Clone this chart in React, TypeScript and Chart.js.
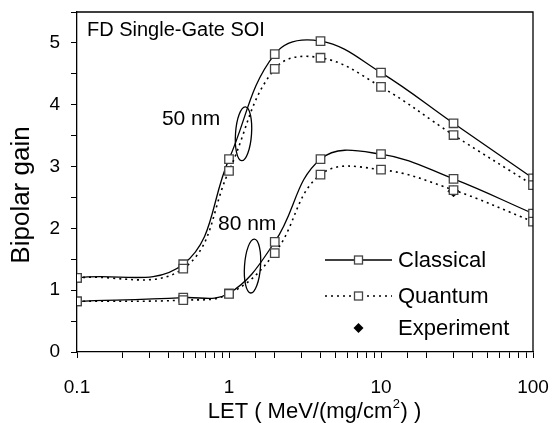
import React, { useEffect, useRef } from "react";
import { Chart, registerables } from "chart.js";

Chart.register(...registerables);

const LET = [0.1, 0.5, 1, 2, 4, 10, 30, 100];
const classical50 = [1.2, 1.42, 3.12, 4.82, 5.03, 4.52, 3.7, 2.81];
const quantum50 = [1.2, 1.35, 2.93, 4.58, 4.76, 4.29, 3.51, 2.7];
const classical80 = [0.82, 0.88, 0.95, 1.78, 3.12, 3.2, 2.8, 2.24];
const quantum80 = [0.82, 0.84, 0.94, 1.6, 2.87, 2.95, 2.62, 2.11];
const experimentLET = [30];
const experimentGain = [2.6];

const xTickLabels = [0.1, 1, 10, 100];
const yTickLabels = [0, 1, 2, 3, 4, 5];

const TITLE = "FD Single-Gate SOI";
const Y_TITLE = "Bipolar gain";
const X_TITLE_MAIN = "LET ( MeV/(mg/cm";
const X_TITLE_SUP = "2";
const X_TITLE_END = ") )";

const groupLabels = ["50 nm", "80 nm"];
const groupLabelX = [0.362, 0.846];
const groupLabelY = [3.67, 1.97];
const ellipseX = [1.246, 1.428];
const ellipseY = [3.53, 1.39];

const legendLabels = ["Classical", "Quantum", "Experiment"];

const FONT = "'Liberation Sans', Arial, Helvetica, sans-serif";

const toPts = (xs: number[], ys: number[]) => xs.map((x, i) => ({ x, y: ys[i] }));

const overlay = {
  id: "overlay",
  afterDraw(chart: any) {
    const { ctx, chartArea: a, scales } = chart;
    const xs = scales.x;
    const ys = scales.y;
    ctx.save();
    // frame
    ctx.strokeStyle = "#000";
    ctx.lineWidth = 1.3;
    ctx.beginPath();
    ctx.moveTo(a.left, a.top);
    ctx.lineTo(a.right, a.top);
    ctx.lineTo(a.right, a.bottom);
    ctx.stroke();

    ctx.fillStyle = "#000";
    // title
    ctx.font = `20px ${FONT}`;
    ctx.textAlign = "left";
    ctx.textBaseline = "alphabetic";
    ctx.fillText(TITLE, a.left + 10, a.top + 24);

    // group labels
    ctx.font = `21px ${FONT}`;
    groupLabels.forEach((t, i) => {
      ctx.fillText(t, xs.getPixelForValue(groupLabelX[i]), ys.getPixelForValue(groupLabelY[i]));
    });

    // ellipses
    ctx.lineWidth = 1.3;
    ellipseX.forEach((ex, i) => {
      ctx.beginPath();
      ctx.ellipse(xs.getPixelForValue(ex), ys.getPixelForValue(ellipseY[i]), 8, 27, 0.07, 0, Math.PI * 2);
      ctx.stroke();
    });

    // legend
    const lx0 = a.left + 248;
    const lx1 = a.left + 315;
    const lxm = (lx0 + lx1) / 2;
    const ly = [a.top + 248, a.top + 284, a.top + 316];
    ctx.font = `22px ${FONT}`;
    ctx.textBaseline = "middle";
    ctx.strokeStyle = "#000";
    ctx.lineWidth = 1.3;
    ctx.setLineDash([]);
    ctx.beginPath();
    ctx.moveTo(lx0, ly[0]);
    ctx.lineTo(lx1, ly[0]);
    ctx.stroke();
    ctx.lineWidth = 1.6;
    ctx.setLineDash([2, 4]);
    ctx.beginPath();
    ctx.moveTo(lx0, ly[1]);
    ctx.lineTo(lx1, ly[1]);
    ctx.stroke();
    ctx.setLineDash([]);
    for (let k = 0; k < 2; k++) {
      ctx.fillStyle = "#fff";
      ctx.strokeStyle = "#444";
      ctx.lineWidth = 1.3;
      ctx.fillRect(lxm - 4, ly[k] - 4, 8, 8);
      ctx.strokeRect(lxm - 4, ly[k] - 4, 8, 8);
    }
    ctx.fillStyle = "#000";
    ctx.beginPath();
    ctx.moveTo(lxm, ly[2] - 5);
    ctx.lineTo(lxm + 5, ly[2]);
    ctx.lineTo(lxm, ly[2] + 5);
    ctx.lineTo(lxm - 5, ly[2]);
    ctx.closePath();
    ctx.fill();
    legendLabels.forEach((t, i) => {
      ctx.fillText(t, lx1 + 6, ly[i] + 1);
    });

    // y title
    ctx.save();
    ctx.translate(22, 195);
    ctx.rotate(-Math.PI / 2);
    ctx.font = `26px ${FONT}`;
    ctx.textAlign = "center";
    ctx.textBaseline = "middle";
    ctx.fillText(Y_TITLE, 0, 0);
    ctx.restore();

    // x title
    ctx.textBaseline = "alphabetic";
    ctx.textAlign = "left";
    ctx.font = `22px ${FONT}`;
    const w1 = ctx.measureText(X_TITLE_MAIN).width;
    const w3 = ctx.measureText(X_TITLE_END).width;
    ctx.font = `13px ${FONT}`;
    const w2 = ctx.measureText(X_TITLE_SUP).width;
    const total = w1 + w2 + w3 + 1;
    const cx = 314.5;
    const bx = cx - total / 2;
    const by = 418;
    ctx.font = `22px ${FONT}`;
    ctx.fillText(X_TITLE_MAIN, bx, by);
    ctx.font = `13px ${FONT}`;
    ctx.fillText(X_TITLE_SUP, bx + w1 + 0.5, by - 10);
    ctx.font = `22px ${FONT}`;
    ctx.fillText(X_TITLE_END, bx + w1 + w2 + 1, by);
    ctx.restore();
  },
};

const isLabelX = (v: number) => xTickLabels.some((t) => Math.abs(Math.log10(v) - Math.log10(t)) < 1e-6);

export default function App() {
  const ref = useRef<HTMLCanvasElement | null>(null);
  useEffect(() => {
    if (!ref.current) return;
    const squareStyle = {
      pointStyle: "rect" as const,
      pointRadius: 6,
      pointHoverRadius: 6,
      pointBackgroundColor: "#fff",
      pointBorderColor: "#444",
      pointBorderWidth: 1.3,
      tension: 0.4,
      fill: false,
      borderColor: "#000",
    };
    const chart = new Chart(ref.current, {
      type: "line",
      data: {
        datasets: [
          { label: "Quantum 50", data: toPts(LET, quantum50), ...squareStyle, borderWidth: 1.6, borderDash: [2, 4] },
          { label: "Classical 50", data: toPts(LET, classical50), ...squareStyle, borderWidth: 1.3 },
          { label: "Quantum 80", data: toPts(LET, quantum80), ...squareStyle, borderWidth: 1.6, borderDash: [2, 4] },
          { label: "Classical 80", data: toPts(LET, classical80), ...squareStyle, borderWidth: 1.3 },
          {
            label: "Experiment",
            data: toPts(experimentLET, experimentGain),
            showLine: false,
            pointStyle: "rectRot",
            pointRadius: 5.5,
            pointBackgroundColor: "#000",
            pointBorderColor: "#000",
            borderColor: "#000",
          },
        ],
      },
      options: {
        responsive: false,
        animation: false,
        events: [],
        layout: { padding: { top: 12, right: 19, left: 0, bottom: 0 } },
        plugins: { legend: { display: false }, tooltip: { enabled: false } },
        scales: {
          x: {
            type: "logarithmic",
            min: 0.1,
            max: 100,
            afterFit: (s: any) => {
              s.height = 71;
              s.paddingLeft = 0;
              s.paddingRight = 0;
            },
            border: { display: true, color: "#000", width: 1.3 },
            grid: { drawOnChartArea: false, drawTicks: true, tickLength: 6, color: "#000", lineWidth: 1 },
            ticks: {
              autoSkip: false,
              maxRotation: 0,
              padding: 18,
              color: "#000",
              font: { family: FONT, size: 19 },
              callback: (v: any) => (isLabelX(Number(v)) ? String(Number(v)) : ""),
            },
          },
          y: {
            type: "linear",
            min: 0,
            max: 5.5,
            afterFit: (s: any) => {
              s.width = 77;
              s.paddingTop = 0;
              s.paddingBottom = 0;
            },
            border: { display: true, color: "#000", width: 1.3 },
            grid: { drawOnChartArea: false, drawTicks: true, tickLength: 6, color: "#000", lineWidth: 1 },
            ticks: {
              stepSize: 0.5,
              autoSkip: false,
              padding: 11,
              color: "#000",
              font: { family: FONT, size: 19 },
              callback: (v: any) => (yTickLabels.includes(Number(v)) ? String(v) : ""),
            },
          },
        },
      },
      plugins: [overlay],
    });
    return () => chart.destroy();
  }, []);
  return (
    <div style={{ position: "fixed", left: 0, top: 0, width: 552, height: 423, background: "#fff" }}>
      <canvas ref={ref} width={552} height={423} />
    </div>
  );
}
